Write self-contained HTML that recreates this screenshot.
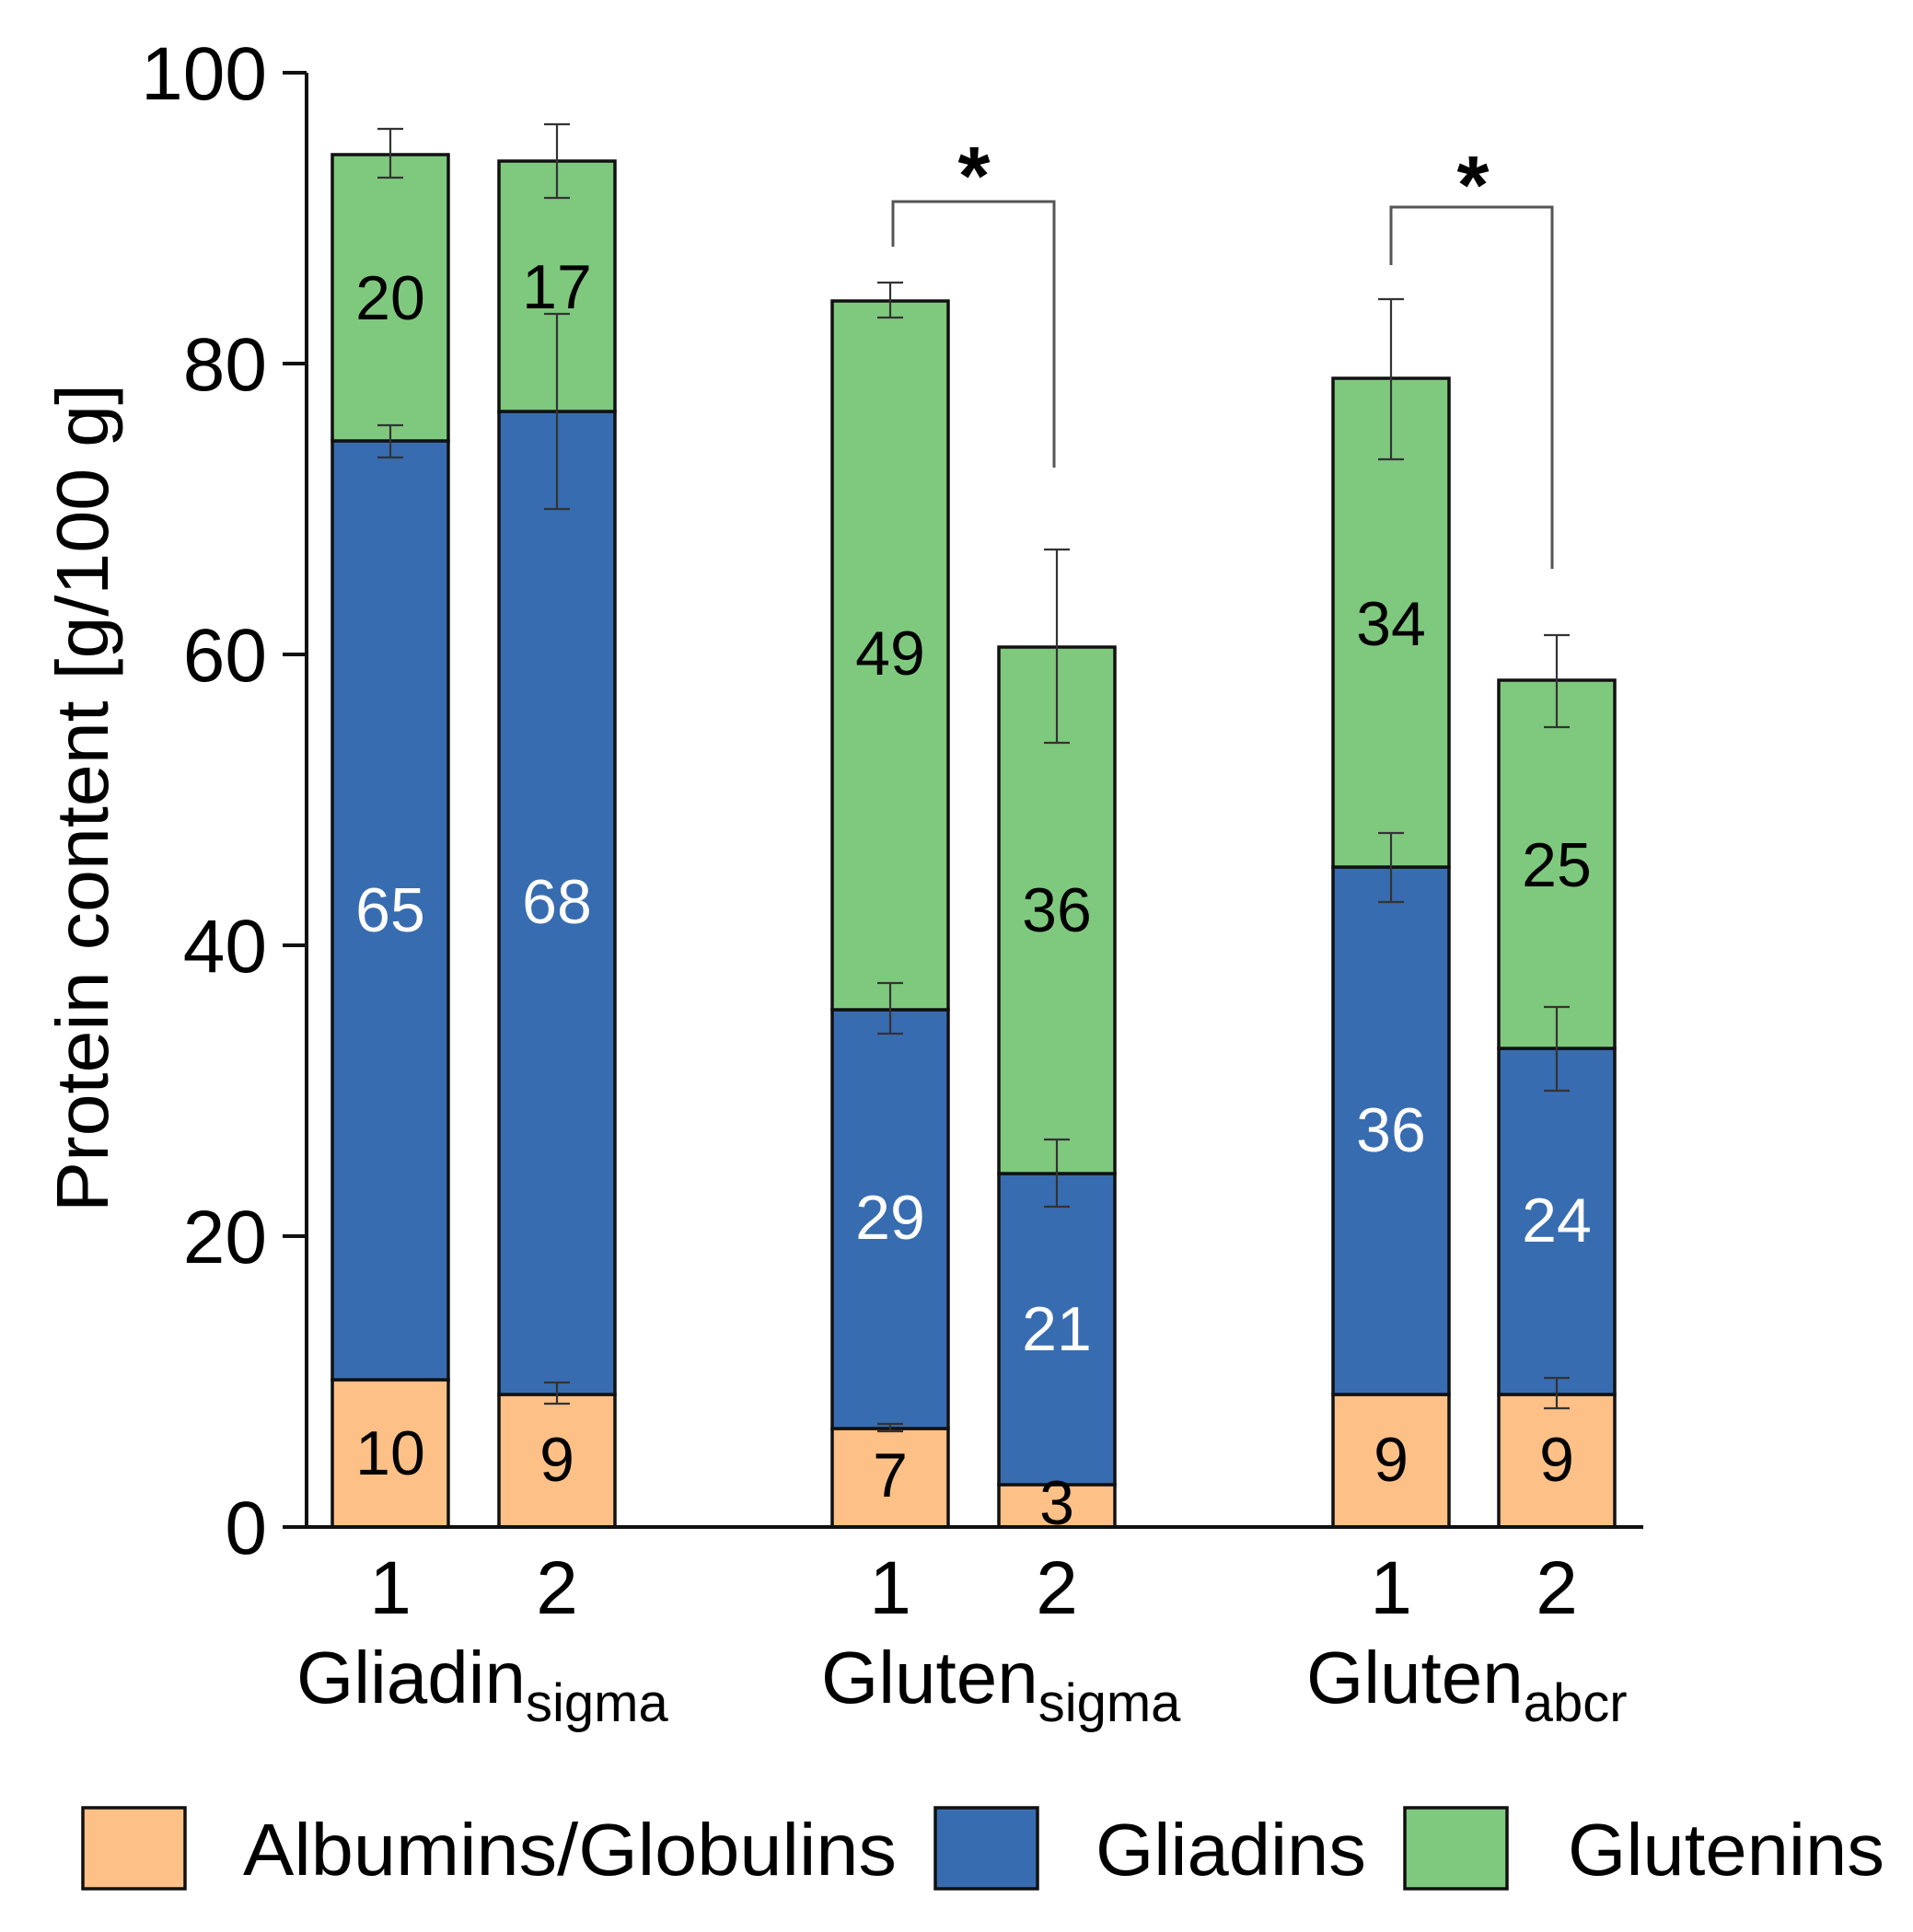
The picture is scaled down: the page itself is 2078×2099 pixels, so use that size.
<!DOCTYPE html>
<html><head><meta charset="utf-8"><style>html,body{margin:0;padding:0;background:#fff}svg{display:block}</style></head>
<body>
<svg width="2078" height="2099" viewBox="0 0 2078 2099" xmlns="http://www.w3.org/2000/svg" font-family="Liberation Sans, Arial, sans-serif">
<rect width="2078" height="2099" fill="#fff"/>
<g stroke="#111" stroke-width="3.5">
<rect x="361" y="1499" width="126" height="160" fill="#FDC086"/>
<rect x="361" y="479" width="126" height="1020" fill="#386CB0"/>
<rect x="361" y="168" width="126" height="311" fill="#7FC97F"/>
<rect x="542" y="1515" width="126" height="144" fill="#FDC086"/>
<rect x="542" y="447" width="126" height="1068" fill="#386CB0"/>
<rect x="542" y="175" width="126" height="272" fill="#7FC97F"/>
<rect x="904" y="1552" width="126" height="107" fill="#FDC086"/>
<rect x="904" y="1097" width="126" height="455" fill="#386CB0"/>
<rect x="904" y="327" width="126" height="770" fill="#7FC97F"/>
<rect x="1085" y="1613" width="126" height="46" fill="#FDC086"/>
<rect x="1085" y="1275" width="126" height="338" fill="#386CB0"/>
<rect x="1085" y="703" width="126" height="572" fill="#7FC97F"/>
<rect x="1448" y="1515" width="126" height="144" fill="#FDC086"/>
<rect x="1448" y="942" width="126" height="573" fill="#386CB0"/>
<rect x="1448" y="411" width="126" height="531" fill="#7FC97F"/>
<rect x="1628" y="1515" width="126" height="144" fill="#FDC086"/>
<rect x="1628" y="1139" width="126" height="376" fill="#386CB0"/>
<rect x="1628" y="739" width="126" height="400" fill="#7FC97F"/>
</g>
<g stroke="#333" stroke-width="2.2" fill="none">
<path d="M424 140V193M410 140H438M410 193H438"/>
<path d="M424 462V497M410 462H438M410 497H438"/>
<path d="M605 135V215M591 135H619M591 215H619"/>
<path d="M605 341V553M591 341H619M591 553H619"/>
<path d="M605 1502V1525M591 1502H619M591 1525H619"/>
<path d="M967 307V345M953 307H981M953 345H981"/>
<path d="M967 1068V1123M953 1068H981M953 1123H981"/>
<path d="M967 1547V1555M953 1547H981M953 1555H981"/>
<path d="M1148 597V807M1134 597H1162M1134 807H1162"/>
<path d="M1148 1238V1311M1134 1238H1162M1134 1311H1162"/>
<path d="M1511 325V499M1497 325H1525M1497 499H1525"/>
<path d="M1511 905V980M1497 905H1525M1497 980H1525"/>
<path d="M1691 690V790M1677 690H1705M1677 790H1705"/>
<path d="M1691 1094V1185M1677 1094H1705M1677 1185H1705"/>
<path d="M1691 1497V1530M1677 1497H1705M1677 1530H1705"/>
</g>
<g stroke="#555" stroke-width="3" fill="none">
<path d="M970 268V219H1145V508"/>
<path d="M1511 288V225H1686V618"/>
</g>
<g font-size="90" font-weight="bold" text-anchor="middle" fill="#000">
<text x="1058" y="222">*</text>
<text x="1600" y="232">*</text>
</g>
<g stroke="#111" stroke-width="4" fill="none">
<path d="M333 79V1659H1785"/>
<path d="M307 79H333M307 395H333M307 711H333M307 1027H333M307 1343H333M307 1659H333"/>
</g>
<g font-size="82" text-anchor="end" fill="#000">
<text x="290" y="108">100</text>
<text x="290" y="424">80</text>
<text x="290" y="740">60</text>
<text x="290" y="1056">40</text>
<text x="290" y="1372">20</text>
<text x="290" y="1688">0</text>
</g>
<text transform="translate(117,867) rotate(-90)" font-size="80" text-anchor="middle" fill="#000" textLength="900" lengthAdjust="spacingAndGlyphs">Protein content [g/100 g]</text>
<g font-size="68" text-anchor="middle" fill="#000">
<text x="424" y="347">20</text>
<text x="424" y="1602">10</text>
<text x="605" y="335">17</text>
<text x="605" y="1609">9</text>
<text x="967" y="733">49</text>
<text x="967" y="1626">7</text>
<text x="1148" y="1012">36</text>
<text x="1148" y="1656">3</text>
<text x="1511" y="701">34</text>
<text x="1511" y="1609">9</text>
<text x="1691" y="963">25</text>
<text x="1691" y="1609">9</text>
</g>
<g font-size="68" text-anchor="middle" fill="#fff">
<text x="424" y="1012">65</text>
<text x="605" y="1003">68</text>
<text x="967" y="1346">29</text>
<text x="1148" y="1467">21</text>
<text x="1511" y="1251">36</text>
<text x="1691" y="1349">24</text>
</g>
<g font-size="82" text-anchor="middle" fill="#000">
<text x="424" y="1753">1</text>
<text x="605" y="1753">2</text>
<text x="967" y="1753">1</text>
<text x="1148" y="1753">2</text>
<text x="1511" y="1753">1</text>
<text x="1691" y="1753">2</text>
</g>
<g font-size="80" fill="#000">
<text x="322" y="1850">Gliadin<tspan font-size="58" dy="20">sigma</tspan></text>
<text x="892" y="1850">Gluten<tspan font-size="58" dy="20">sigma</tspan></text>
<text x="1419" y="1850">Gluten<tspan font-size="58" dy="20">abcr</tspan></text>
</g>
<g stroke="#111" stroke-width="3.5">
<rect x="90" y="1964" width="111" height="88" fill="#FDC086"/>
<rect x="1016" y="1964" width="111" height="88" fill="#386CB0"/>
<rect x="1526" y="1964" width="111" height="88" fill="#7FC97F"/>
</g>
<g font-size="80" fill="#000">
<text x="264" y="2037" textLength="710" lengthAdjust="spacingAndGlyphs">Albumins/Globulins</text>
<text x="1190" y="2037" textLength="294" lengthAdjust="spacingAndGlyphs">Gliadins</text>
<text x="1703" y="2037" textLength="344" lengthAdjust="spacingAndGlyphs">Glutenins</text>
</g>
</svg>
</body></html>
